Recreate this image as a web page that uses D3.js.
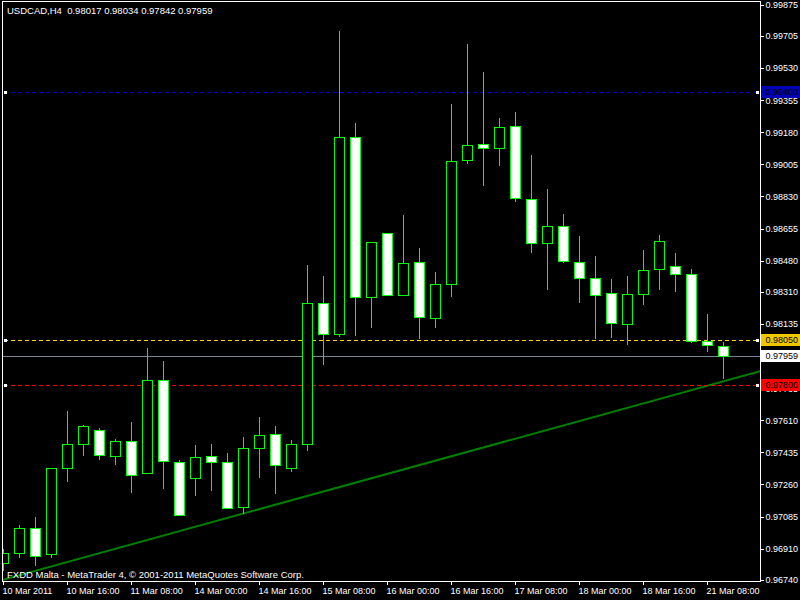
<!DOCTYPE html>
<html><head><meta charset="utf-8">
<script src="https://cdn.jsdelivr.net/npm/d3@7"></script>
<style>html,body{margin:0;padding:0;background:#000;overflow:hidden}</style>
</head><body><svg id="c" width="800" height="600"></svg>
<script>
const bars = [
 "10 Mar 00:00","10 Mar 04:00","10 Mar 08:00","10 Mar 12:00","10 Mar 16:00","10 Mar 20:00",
 "11 Mar 00:00","11 Mar 04:00","11 Mar 08:00","11 Mar 12:00","11 Mar 16:00","11 Mar 20:00",
 "14 Mar 00:00","14 Mar 04:00","14 Mar 08:00","14 Mar 12:00","14 Mar 16:00","14 Mar 20:00",
 "15 Mar 00:00","15 Mar 04:00","15 Mar 08:00","15 Mar 12:00","15 Mar 16:00","15 Mar 20:00",
 "16 Mar 00:00","16 Mar 04:00","16 Mar 08:00","16 Mar 12:00","16 Mar 16:00","16 Mar 20:00",
 "17 Mar 00:00","17 Mar 04:00","17 Mar 08:00","17 Mar 12:00","17 Mar 16:00","17 Mar 20:00",
 "18 Mar 00:00","18 Mar 04:00","18 Mar 08:00","18 Mar 12:00","18 Mar 16:00","18 Mar 20:00",
 "21 Mar 00:00","21 Mar 04:00","21 Mar 08:00","21 Mar 12:00"];
const openP  = [0.96831,0.96886,0.97022,0.96880,0.97347,0.97480,0.97556,0.97414,0.97496,0.97322,
 0.97829,0.97382,0.97295,0.97414,0.97382,0.97136,0.97458,0.97534,0.97349,0.97480,
 0.98249,0.98080,0.99154,0.98281,0.98630,0.98292,0.98472,0.98167,0.98352,0.99028,
 0.99115,0.99094,0.99214,0.98816,0.98576,0.98668,0.98472,0.98385,0.98303,0.98137,
 0.98296,0.98432,0.98450,0.98407,0.98041,0.98017];
const highP  = [0.96907,0.97040,0.97083,0.97349,0.97661,0.97585,0.97567,0.97509,0.97601,0.98005,
 0.97934,0.97393,0.97474,0.97482,0.97432,0.97520,0.97629,0.97580,0.97503,0.98457,
 0.98397,0.99733,0.99232,0.98581,0.98630,0.98730,0.98550,0.98419,0.99335,0.99662,
 0.99510,0.99259,0.99292,0.99057,0.98872,0.98735,0.98616,0.98507,0.98381,0.98397,
 0.98539,0.98621,0.98523,0.98436,0.98190,0.98034];
const lowP   = [0.96795,0.96862,0.96818,0.96867,0.97276,0.97418,0.97396,0.97374,0.97216,0.97322,
 0.97238,0.97093,0.97200,0.97227,0.97131,0.97104,0.97303,0.97211,0.97331,0.97445,
 0.97918,0.98067,0.98077,0.98121,0.98292,0.98292,0.98061,0.98121,0.98285,0.99012,
 0.98895,0.98999,0.98808,0.98525,0.98328,0.98470,0.98257,0.98061,0.98065,0.98028,
 0.98246,0.98328,0.98317,0.98034,0.97990,0.97842];
const closeP = [0.96886,0.97022,0.96872,0.97349,0.97480,0.97578,0.97418,0.97496,0.97314,0.97829,
 0.97387,0.97093,0.97409,0.97382,0.97131,0.97458,0.97529,0.97365,0.97480,0.98249,
 0.98080,0.99154,0.98281,0.98581,0.98292,0.98467,0.98172,0.98352,0.99023,0.99110,
 0.99094,0.99208,0.98821,0.98576,0.98668,0.98478,0.98385,0.98291,0.98138,0.98298,
 0.98428,0.98587,0.98407,0.98041,0.98020,0.97959];
const timeTickBars = [0,4,8,12,16,20,24,28,32,36,40,44];
const timeTickLabels = ["10 Mar 2011","10 Mar 16:00","11 Mar 08:00","14 Mar 00:00","14 Mar 16:00",
 "15 Mar 08:00","16 Mar 00:00","16 Mar 16:00","17 Mar 08:00","18 Mar 00:00","18 Mar 16:00","21 Mar 08:00"];
const priceTicks = [0.99875,0.99705,0.99530,0.99355,0.99180,0.99005,0.98830,0.98655,0.98480,0.98310,
 0.98135,0.97960,0.97785,0.97610,0.97435,0.97260,0.97085,0.96910,0.96740];
const levelPrices = [0.99400,0.98050,0.97800];
const bidPrice = 0.97959;
const trendBars = [0,45];
const trendPrices = [0.96741,0.97822];
const titleText = "USDCAD,H4  0.98017 0.98034 0.97842 0.97959";
const footerText = "FXDD Malta - MetaTrader 4, \u00a9 2001-2011 MetaQuotes Software Corp.";

// ---- drawing ----
const levelColors = ["#0000b4","#f0c800","#ff0000"];
const levelLineColors = ["#0000c0","#ffd700","#ff0000"];
const FONT = "'Liberation Sans', Arial, sans-serif";
const svg = d3.select("#c");
svg.append("rect").attr("width",800).attr("height",600).attr("fill","#000");

const L = 2.5, R = 760.5, T = 1.5, B = 581.5;
const x = d3.scaleLinear().domain([0,45]).range([3.5,723.5]);
const y = d3.scaleLinear().domain([0.96740,0.99875]).range([579.8,4.8]);
const py = v => Math.round(y(v)) + 0.5;

svg.append("clipPath").attr("id","plot").append("rect")
  .attr("x",3).attr("y",2).attr("width",757).attr("height",579);

const plot = svg.append("g").attr("clip-path","url(#plot)");

// trend line
const slope = (trendPrices[1]-trendPrices[0])/(trendBars[1]-trendBars[0]);
const tx0 = -2, tx1 = 50;
plot.append("line")
  .attr("x1",x(tx0)).attr("y1",y(trendPrices[0]+slope*(tx0-trendBars[0])))
  .attr("x2",x(tx1)).attr("y2",y(trendPrices[0]+slope*(tx1-trendBars[0])))
  .attr("stroke","#008000").attr("stroke-width",2);

// bid line
plot.append("line").attr("x1",2).attr("x2",760).attr("y1",py(bidPrice)).attr("y2",py(bidPrice))
  .attr("stroke","#778899").attr("stroke-width",1).attr("shape-rendering","crispEdges");

// level lines
levelPrices.forEach((v,i)=>{
  const yy = py(v);
  plot.append("line").attr("x1",4).attr("x2",758).attr("y1",yy).attr("y2",yy)
    .attr("stroke",levelLineColors[i]).attr("stroke-width",1).attr("stroke-dasharray","4,3")
    .attr("shape-rendering","crispEdges");
});

// candles
const idx = d3.range(bars.length);
const cg = plot.append("g").selectAll("g").data(idx).join("g");
cg.append("line")
  .attr("x1",i=>x(i)).attr("x2",i=>x(i))
  .attr("y1",i=>py(highP[i])-0.5).attr("y2",i=>py(lowP[i])+0.5)
  .attr("stroke","#00ff00").attr("stroke-width",1).attr("shape-rendering","crispEdges");
cg.append("rect")
  .attr("x",i=>x(i)-5).attr("width",10)
  .attr("y",i=>py(Math.max(openP[i],closeP[i])))
  .attr("height",i=>Math.max(0,py(Math.min(openP[i],closeP[i]))-py(Math.max(openP[i],closeP[i]))))
  .attr("fill",i=>closeP[i]>=openP[i]?"#000":"#fff")
  .attr("stroke","#00ff00").attr("stroke-width",1).attr("shape-rendering","crispEdges");

// level markers
levelPrices.forEach((v,i)=>{
  const yy = Math.round(y(v));
  [4,756].forEach(mx=>{
    svg.append("rect").attr("x",mx).attr("y",yy-1).attr("width",3).attr("height",3)
      .attr("fill","#fff").attr("shape-rendering","crispEdges");
  });
});

// frame
svg.append("path").attr("d",`M${L},${B}V${T}H${R}V${B}Z`)
  .attr("fill","none").attr("stroke","#fff").attr("stroke-width",1).attr("shape-rendering","crispEdges");

// price axis
const ya = svg.append("g").attr("transform",`translate(${R},0)`)
  .call(d3.axisRight(y).tickValues(priceTicks).tickFormat(d3.format(".5f")).tickSize(3).tickPadding(2));
ya.select(".domain").remove();
ya.selectAll("line").attr("stroke","#fff").attr("shape-rendering","crispEdges");
ya.selectAll("text").attr("fill","#fff").attr("font-family",FONT).attr("font-size","9px");

// time axis
const xa = svg.append("g").attr("transform",`translate(0,${B})`)
  .call(d3.axisBottom(x).tickValues(timeTickBars).tickFormat((d,i)=>timeTickLabels[i]).tickSize(3).tickPadding(3).offset(0));
xa.select(".domain").remove();
xa.selectAll("line").attr("stroke","#fff").attr("shape-rendering","crispEdges");
xa.selectAll("text").attr("fill","#fff").attr("font-family",FONT).attr("font-size","9px")
  .attr("text-anchor","start").attr("dx","-1");

// price labels (boxes)
const boxes = levelPrices.map((v,i)=>({v, bg:levelColors[i]})).concat([{v:bidPrice,bg:"#fff"}]);
boxes.forEach(b=>{
  const yy = Math.round(y(b.v));
  svg.append("rect").attr("x",761).attr("y",yy-6).attr("width",39).attr("height",12)
    .attr("fill",b.bg).attr("shape-rendering","crispEdges");
  svg.append("text").attr("x",765.5).attr("y",yy+0.5).attr("dy","0.32em")
    .attr("fill","#000").attr("font-family",FONT).attr("font-size","9px")
    .text(d3.format(".5f")(b.v));
});

// texts
svg.append("text").attr("x",7).attr("y",14).attr("fill","#fff")
  .attr("font-family",FONT).attr("font-size","9.5px").style("white-space","pre").text(titleText);
svg.append("text").attr("x",7).attr("y",578).attr("fill","#fff")
  .attr("font-family",FONT).attr("font-size","9.5px").text(footerText);
</script></body></html>
